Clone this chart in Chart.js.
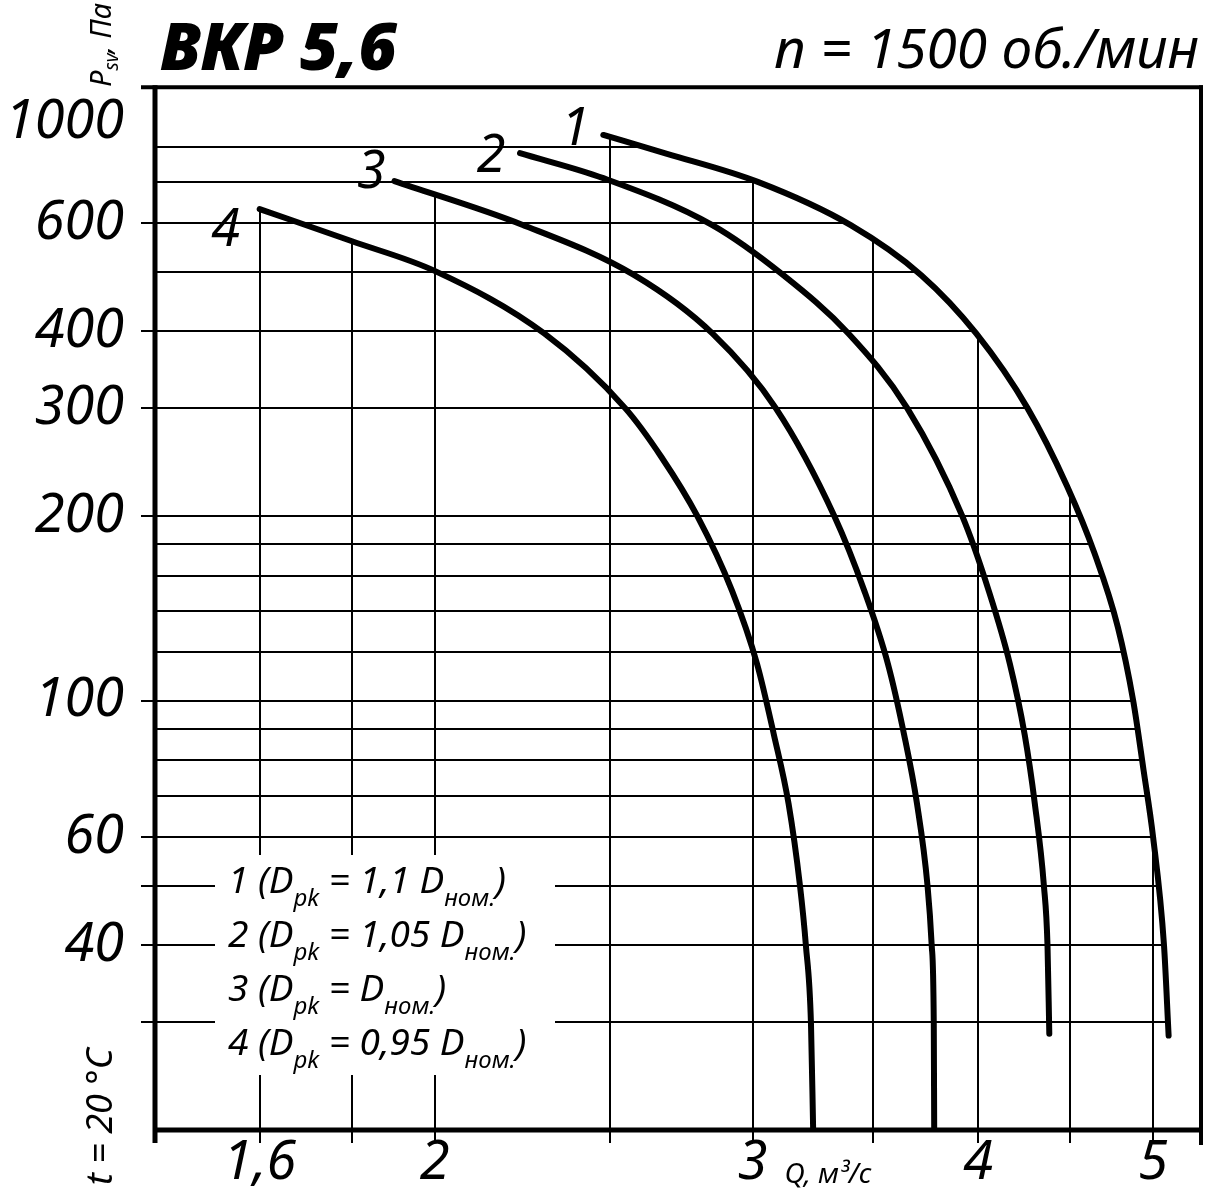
<!DOCTYPE html>
<html lang="ru">
<head>
<meta charset="utf-8">
<title>ВКР 5,6</title>
<script src="https://cdn.jsdelivr.net/npm/chart.js@4.4.1/dist/chart.umd.min.js"></script>
<style>
  html, body { margin: 0; padding: 0; background: #fff; }
  canvas { display: block; }
</style>
</head>
<body>
<canvas id="fanChart" width="1214" height="1199"></canvas>
<script>
// ВКР 5,6, n = 1500 об./мин: Psv (Па) against Q (м³/с) for four impeller diameters

// curve 1 (Dpk = 1,1 Dном.)
const q1 = [2.48, 2.69, 3.02, 3.40, 3.72, 3.99, 4.26, 4.48, 4.64, 4.78, 4.875, 4.94, 5.00, 5.07, 5.10];
const p1 = [836, 779, 701, 596, 494, 397, 300, 224, 174, 132, 100, 77, 60, 40, 28.5];
// curve 2 (Dpk = 1,05 Dном.)
const q2 = [2.23, 2.48, 2.85, 3.12, 3.39, 3.654, 3.92, 4.055, 4.165, 4.245, 4.30, 4.35, 4.37, 4.38];
const p2 = [781, 711, 596, 494, 397, 300, 200, 151, 115, 88, 68, 50, 40, 28.7];
// curve 3 (Dpk = Dном.)
const q3 = [1.90, 2.236, 2.58, 2.85, 3.09, 3.33, 3.46, 3.565, 3.64, 3.70, 3.75, 3.77, 3.78, 3.782];
const p3 = [703, 597, 494, 397, 300, 200, 151, 115, 88, 68, 50, 40, 29.8, 20];
// curve 4 (Dpk = 0,95 Dном.)
const q4 = [1.60, 1.80, 2.00, 2.30, 2.55, 2.67, 2.796, 2.923, 3.017, 3.083, 3.141, 3.187, 3.211, 3.232, 3.241];
const p4 = [633, 561, 502, 397, 300, 250, 200, 151, 115, 88, 68, 50, 40, 29.8, 20];

const curveNames = ['1', '2', '3', '4'];

// axis grid
const qTicks = [1.6, 1.8, 2, 2.5, 3, 3.5, 4, 4.5, 5];
const qLabelled = [1.6, 2, 3, 4, 5];
const pTicks = [20, 30, 40, 50, 60, 70, 80, 90, 100, 120, 140, 160, 180, 200, 300, 400, 500, 600, 700, 800, 1000];
const pLabelled = [40, 60, 100, 200, 300, 400, 600, 1000];
const pMarked = [30, 40, 50, 60, 100, 200, 300, 400, 600, 1000];

// legend rows: plain text / subscript, alternating
const legendRows = [
    ['1 (D', 'pk', ' = 1,1 D', 'ном.', ')'],
    ['2 (D', 'pk', ' = 1,05 D', 'ном.', ')'],
    ['3 (D', 'pk', ' = D', 'ном.', ')'],
    ['4 (D', 'pk', ' = 0,95 D', 'ном.', ')']
];

const FAMILY = '"Noto Sans", "Open Sans", "DejaVu Sans", sans-serif';
const italic = (size, weight) => `italic ${weight || 'normal'} ${size}px ${FAMILY}`;
const comma = v => String(v).replace('.', ',');
const toPoints = (qs, ps) => qs.map((q, i) => ({ x: q, y: ps[i] }));

// label offsets from the first point of each curve, legend box placement
const nameOffsets = [[-28, 10], [-29, 19], [-23, 7], [-34, 37]];
const legendBox = { left: 215, top: 855, right: 555, bottom: 1075 };

// adds the path of dataset i to ctx (starts with a moveTo)
function traceCurve(ctx, chart, i) {
    const meta = chart.getDatasetMeta(i);
    meta.dataset.updateControlPoints(chart.chartArea, 'x');
    meta.dataset.path(ctx);
    return meta.data;
}

// grid only under the family of curves
const gridUnderCurves = {
    id: 'gridUnderCurves',
    beforeDraw(chart) {
        const xs = chart.scales.x;
        const ys = chart.scales.y;
        if (!xs.clipPatched) {
            const drawX = xs.drawGrid;
            xs.drawGrid = function (area) {
                const ctx = chart.ctx;
                const a = chart.chartArea;
                ctx.save();
                ctx.beginPath();
                chart.data.datasets.forEach((ds, i) => {
                    const pts = traceCurve(ctx, chart, i);
                    const first = pts[0];
                    const last = pts[pts.length - 1];
                    ctx.lineTo(last.x, a.bottom + 30);
                    ctx.lineTo(first.x - 4, a.bottom + 30);
                    ctx.lineTo(first.x - 4, first.y);
                    ctx.closePath();
                });
                ctx.clip();
                drawX.call(this, area);
                ctx.restore();
            };
            xs.clipPatched = true;
        }
        if (!ys.clipPatched) {
            const drawY = ys.drawGrid;
            ys.drawGrid = function (area) {
                const ctx = chart.ctx;
                const a = chart.chartArea;
                ctx.save();
                ctx.beginPath();
                ctx.rect(0, 0, a.left, a.bottom + 10);
                const pts = traceCurve(ctx, chart, 0);
                const first = pts[0];
                const last = pts[pts.length - 1];
                ctx.lineTo(last.x, a.bottom + 10);
                ctx.lineTo(a.left, a.bottom + 10);
                ctx.lineTo(a.left, first.y);
                ctx.closePath();
                ctx.clip();
                drawY.call(this, area);
                ctx.restore();
            };
            ys.clipPatched = true;
        }
    },
    beforeDatasetsDraw(chart) {
        const ctx = chart.ctx;
        ctx.save();
        ctx.fillStyle = '#fff';
        ctx.fillRect(legendBox.left, legendBox.top, legendBox.right - legendBox.left, legendBox.bottom - legendBox.top);
        ctx.restore();
    }
};

function strokeLine(ctx, x1, y1, x2, y2, w) {
    ctx.lineWidth = w;
    ctx.beginPath();
    ctx.moveTo(x1, y1);
    ctx.lineTo(x2, y2);
    ctx.stroke();
}

function drawParts(ctx, x, y, parts, big, small, drop) {
    parts.forEach((t, i) => {
        const sub = i % 2 === 1;
        ctx.font = italic(sub ? small : big);
        ctx.fillText(t, x, y + (sub ? drop : 0));
        x += ctx.measureText(t).width;
    });
}

const sheetDecor = {
    id: 'sheetDecor',
    afterDraw(chart) {
        const ctx = chart.ctx;
        const a = chart.chartArea;
        const xs = chart.scales.x;
        ctx.save();
        ctx.strokeStyle = '#000';
        ctx.fillStyle = '#000';

        // frame
        strokeLine(ctx, a.left, a.top - 2, a.left, a.bottom + 13, 5);
        strokeLine(ctx, a.left - 2, a.bottom, a.right + 2, a.bottom, 5);
        strokeLine(ctx, a.right, a.top - 2, a.right, a.bottom + 15, 4);
        strokeLine(ctx, a.left - 14, a.top, a.right + 2, a.top, 4);

        // headings
        ctx.textBaseline = 'alphabetic';
        ctx.textAlign = 'left';
        ctx.font = italic(66, 900);
        ctx.fillText('ВКР 5,6', 160, 70);
        ctx.textAlign = 'right';
        ctx.font = italic(55);
        ctx.fillText('n = 1500 об./мин', a.right - 2, 68);

        // axis titles
        ctx.textAlign = 'left';
        ctx.save();
        ctx.translate(111, 87);
        ctx.rotate(-Math.PI / 2);
        drawParts(ctx, 0, 0, ['P', 'sv', ', Па'], 29, 19, 7);
        ctx.restore();

        ctx.save();
        ctx.translate(112, 1185);
        ctx.rotate(-Math.PI / 2);
        ctx.font = italic(36);
        ctx.fillText('t = 20 °C', 0, 0);
        ctx.restore();

        ctx.font = italic(28);
        ctx.fillText('Q, м³/с', xs.getPixelForValue(3) + 32, 1183);

        // curve numbers
        ctx.font = italic(52);
        ctx.textAlign = 'center';
        curveNames.forEach((name, i) => {
            const first = chart.getDatasetMeta(i).data[0];
            ctx.fillText(name, first.x + nameOffsets[i][0], first.y + nameOffsets[i][1]);
        });

        // legend
        ctx.textAlign = 'left';
        legendRows.forEach((row, i) => {
            drawParts(ctx, 228, 893 + i * 54, row, 37, 24, 13);
        });
        ctx.restore();
    }
};

const curveStyle = {
    borderColor: '#000',
    borderWidth: 6,
    borderCapStyle: 'round',
    borderJoinStyle: 'round',
    pointRadius: 0,
    pointHoverRadius: 0,
    cubicInterpolationMode: 'monotone',
    fill: false
};

const ctx = document.getElementById('fanChart').getContext('2d');
const fanChart = new Chart(ctx, {
    type: 'line',
    data: {
        datasets: [
            { label: '1', data: toPoints(q1, p1), ...curveStyle },
            { label: '2', data: toPoints(q2, p2), ...curveStyle },
            { label: '3', data: toPoints(q3, p3), ...curveStyle },
            { label: '4', data: toPoints(q4, p4), ...curveStyle }
        ]
    },
    options: {
        responsive: false,
        animation: false,
        devicePixelRatio: 1,
        layout: { padding: { top: 84, right: 13, left: 0, bottom: 0 } },
        plugins: {
            legend: { display: false },
            tooltip: { enabled: false }
        },
        scales: {
            x: {
                type: 'logarithmic',
                min: 1.4,
                max: 5.315,
                bounds: 'data',
                afterFit: s => { s.height = 69; },
                afterBuildTicks: s => { s.ticks = qTicks.map(v => ({ value: v })); },
                grid: { color: '#000', lineWidth: 2, tickLength: 13, tickColor: '#000' },
                border: { display: false },
                ticks: {
                    autoSkip: false,
                    maxRotation: 0,
                    minRotation: 0,
                    padding: -12,
                    color: '#000',
                    font: { family: FAMILY, size: 54, style: 'italic' },
                    callback: v => qLabelled.includes(v) ? comma(v) : ''
                }
            },
            y: {
                type: 'logarithmic',
                min: 20,
                max: 1000,
                bounds: 'data',
                afterFit: s => { s.width = 155; },
                afterBuildTicks: s => { s.ticks = pTicks.map(v => ({ value: v })); },
                grid: {
                    color: '#000',
                    lineWidth: 2,
                    tickLength: 14,
                    tickColor: c => pMarked.includes(c.tick.value) ? '#000' : 'rgba(0,0,0,0)'
                },
                border: { display: false },
                ticks: {
                    autoSkip: false,
                    padding: 17,
                    color: '#000',
                    font: { family: FAMILY, size: 54, style: 'italic', lineHeight: 1.3 },
                    callback: v => v === 1000 ? ['', '1000'] : (pLabelled.includes(v) ? String(v) : '')
                }
            }
        }
    },
    plugins: [gridUnderCurves, sheetDecor]
});
</script>
</body>
</html>
